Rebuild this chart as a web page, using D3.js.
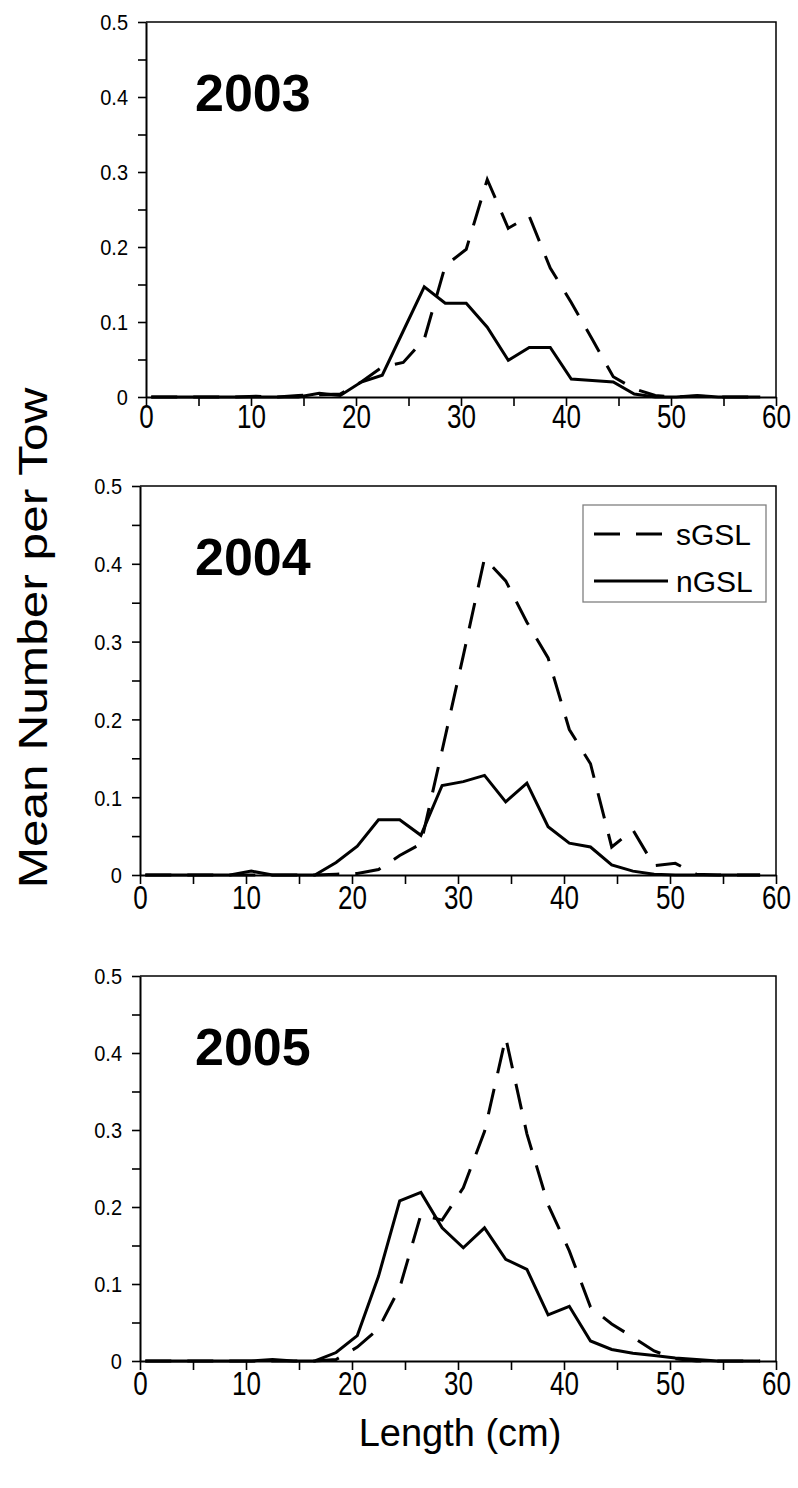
<!DOCTYPE html>
<html>
<head>
<meta charset="utf-8">
<script src="https://cdn.jsdelivr.net/npm/d3@7"></script>
<style>
  body { margin: 0; background: #fff; }
  svg { display: block; font-family: Arial, "Liberation Sans", Helvetica, sans-serif; }
</style>
</head>
<body>
<svg id="chart" width="798" height="1488"></svg>
<script>
// Length bins (cm), midpoints of 2-cm classes
const lengthCm = [0.5, 2.5, 4.5, 6.5, 8.5, 10.5, 12.5, 14.5, 16.5, 18.5,
                  20.5, 22.5, 24.5, 26.5, 28.5, 30.5, 32.5, 34.5, 36.5, 38.5,
                  40.5, 42.5, 44.5, 46.5, 48.5, 50.5, 52.5, 54.5, 56.5, 58.5];

// Mean number per tow, southern Gulf (sGSL) and northern Gulf (nGSL)
const sGSL2003 = [0, 0, 0, 0, 0, 0.001, 0, 0.002, 0.003, 0.004,
                  0.020, 0.040, 0.046, 0.077, 0.175, 0.197, 0.290, 0.225, 0.241, 0.172,
                  0.126, 0.077, 0.027, 0.011, 0.002, 0, 0.001, 0, 0, 0];
const nGSL2003 = [0, 0, 0, 0, 0, 0, 0, 0, 0.005, 0.002,
                  0.020, 0.029, 0.088, 0.147, 0.125, 0.125, 0.093, 0.049, 0.066, 0.066,
                  0.024, 0.022, 0.020, 0.004, 0, 0, 0.002, 0, 0, 0];

const sGSL2004 = [0, 0, 0, 0, 0, 0, 0, 0, 0, 0.001,
                  0.002, 0.007, 0.025, 0.040, 0.160, 0.282, 0.407, 0.378, 0.325, 0.279,
                  0.187, 0.143, 0.036, 0.058, 0.012, 0.015, 0.001, 0, 0, 0];
const nGSL2004 = [0, 0, 0, 0, 0, 0.005, 0, 0, 0, 0.016,
                  0.037, 0.071, 0.071, 0.051, 0.115, 0.120, 0.128, 0.094, 0.118, 0.062,
                  0.041, 0.036, 0.013, 0.005, 0.001, 0, 0, 0, 0, 0];

const sGSL2005 = [0, 0, 0, 0, 0, 0, 0, 0, 0, 0.002,
                  0.018, 0.042, 0.095, 0.190, 0.183, 0.225, 0.298, 0.420, 0.295, 0.203,
                  0.143, 0.070, 0.048, 0.031, 0.013, 0.003, 0, 0, 0, 0];
const nGSL2005 = [0, 0, 0, 0, 0, 0, 0.002, 0, 0, 0.011,
                  0.033, 0.110, 0.208, 0.219, 0.173, 0.147, 0.173, 0.132, 0.119, 0.060,
                  0.071, 0.026, 0.015, 0.010, 0.007, 0.004, 0.002, 0, 0, 0];

const years = ["2003", "2004", "2005"];
const seriesNames = ["sGSL", "nGSL"];

// Axis ticks
const xTicks = [0, 10, 20, 30, 40, 50, 60];
const xMinorTicks = [5, 15, 25, 35, 45, 55];
const yTicks = [0, 0.1, 0.2, 0.3, 0.4, 0.5];
const yTickLabels = ["0", "0.1", "0.2", "0.3", "0.4", "0.5"];
const yMinorTicks = [0.05, 0.15, 0.25, 0.35, 0.45];

const sData = [sGSL2003, sGSL2004, sGSL2005];
const nData = [nGSL2003, nGSL2004, nGSL2005];

// Panel frames in page pixels; labelDy = centre of x tick labels below the axis
const frames = [
  { left: 146, right: 776, top: 22, bottom: 397, labelDy: 19 },
  { left: 140, right: 776, top: 486, bottom: 875, labelDy: 22 },
  { left: 140, right: 776, top: 976, bottom: 1361, labelDy: 22 }
];

const svg = d3.select("#chart");
const LINE_W = 3;
const DASH = "26,16";
const TEXT_STRETCH = 1.25;   // tall, narrow lettering of the tick labels

frames.forEach((f, k) => {
  const x = d3.scaleLinear().domain([0, 60]).range([f.left, f.right]);
  const y = d3.scaleLinear().domain([0, 0.5]).range([f.bottom, f.top]);
  const g = svg.append("g");

  const clipId = "plotClip" + k;
  g.append("clipPath").attr("id", clipId)
    .append("rect")
    .attr("x", f.left).attr("y", f.top - 10)
    .attr("width", f.right - f.left).attr("height", f.bottom - f.top + 20);

  // top and right edges of the frame
  g.append("path")
    .attr("d", `M${f.left},${f.top}H${f.right}V${f.bottom}`)
    .attr("fill", "none").attr("stroke", "#000").attr("stroke-width", 1.5);

  const line = d3.line()
    .x((d, i) => x(lengthCm[i]))
    .y(d => y(d));

  // northern Gulf: solid
  g.append("path")
    .datum(nData[k])
    .attr("d", line)
    .attr("clip-path", `url(#${clipId})`)
    .attr("fill", "none").attr("stroke", "#000")
    .attr("stroke-width", LINE_W).attr("stroke-linejoin", "miter");

  // southern Gulf: dashed
  g.append("path")
    .datum(sData[k])
    .attr("d", line)
    .attr("clip-path", `url(#${clipId})`)
    .attr("fill", "none").attr("stroke", "#000")
    .attr("stroke-width", LINE_W).attr("stroke-dasharray", DASH)
    .attr("stroke-linejoin", "miter");

  // x axis (major + minor ticks)
  const xAxisG = g.append("g")
    .attr("transform", `translate(0,${f.bottom})`)
    .call(d3.axisBottom(x).tickValues(xTicks).tickSize(9).tickSizeOuter(0).tickFormat(d3.format("d")));
  xAxisG.select(".domain").attr("stroke-width", 2);
  xAxisG.selectAll(".tick line").attr("stroke-width", 1.6);
  xAxisG.selectAll(".tick text")
    .attr("y", 0).attr("dy", "0.36em")
    .attr("transform", `translate(0,${f.labelDy}) scale(1,${TEXT_STRETCH})`)
    .attr("font-size", 26).attr("fill", "#000");
  g.append("g")
    .attr("transform", `translate(0,${f.bottom})`)
    .call(d3.axisBottom(x).tickValues(xMinorTicks).tickSize(9).tickSizeOuter(0).tickFormat(""))
    .call(a => a.select(".domain").remove())
    .selectAll(".tick line").attr("stroke-width", 1.6);

  // y axis (major + minor ticks)
  const yAxisG = g.append("g")
    .attr("transform", `translate(${f.left},0)`)
    .call(d3.axisLeft(y).tickValues(yTicks).tickSize(8).tickSizeOuter(0)
      .tickFormat((d, i) => yTickLabels[i]));
  yAxisG.select(".domain").attr("stroke-width", 2);
  yAxisG.selectAll(".tick line").attr("stroke-width", 1.6);
  yAxisG.selectAll(".tick text")
    .attr("x", 0).attr("y", 0).attr("dy", "0.36em")
    .attr("transform", `translate(-18,0) scale(1,1.1)`)
    .attr("font-size", 20).attr("fill", "#000");
  g.append("g")
    .attr("transform", `translate(${f.left},0)`)
    .call(d3.axisLeft(y).tickValues(yMinorTicks).tickSize(8).tickSizeOuter(0).tickFormat(""))
    .call(a => a.select(".domain").remove())
    .selectAll(".tick line").attr("stroke-width", 1.6);

  // year title
  g.append("text")
    .attr("x", 195).attr("y", f.top + 89)
    .attr("font-size", 52).attr("font-weight", "bold")
    .text(years[k]);

  // legend in the middle panel
  if (k === 1) {
    const lg = g.append("g");
    lg.append("rect")
      .attr("x", 583).attr("y", 505).attr("width", 183).attr("height", 97)
      .attr("fill", "#fff").attr("stroke", "#808080").attr("stroke-width", 1.3);
    const rows = [
      { name: seriesNames[0], dash: DASH, yy: 534 },
      { name: seriesNames[1], dash: null, yy: 581 }
    ];
    rows.forEach(r => {
      lg.append("line")
        .attr("x1", 594).attr("x2", 668).attr("y1", r.yy).attr("y2", r.yy)
        .attr("stroke", "#000").attr("stroke-width", LINE_W)
        .attr("stroke-dasharray", r.dash);
      lg.append("text")
        .attr("x", 676).attr("y", r.yy).attr("dy", "0.36em")
        .attr("font-size", 30).text(r.name);
    });
  }
});

// axis titles
svg.append("text")
  .attr("transform", "translate(47,638) rotate(-90) scale(1.24,1)")
  .attr("text-anchor", "middle")
  .attr("font-size", 40)
  .text("Mean Number per Tow");

svg.append("text")
  .attr("x", 460).attr("y", 1446)
  .attr("text-anchor", "middle")
  .attr("font-size", 38)
  .text("Length (cm)");
</script>
</body>
</html>
